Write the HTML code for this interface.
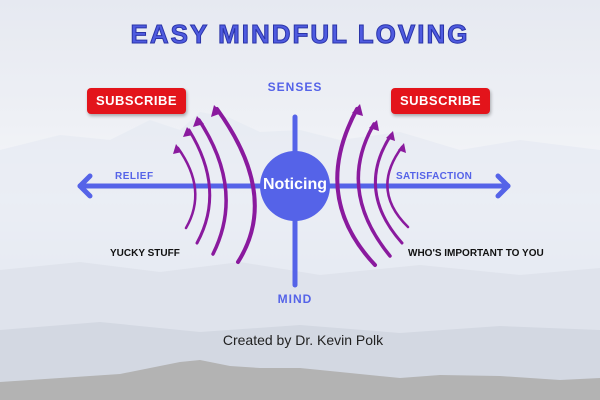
<!DOCTYPE html>
<html><head><meta charset="utf-8"><style>
body{margin:0}
.c{position:relative;width:600px;height:400px;overflow:hidden;background:linear-gradient(#e6e9f1 0%,#eef0f5 30%,#f6f7fa 50%,#e9ecf3 70%,#dfe3ec 100%);font-family:"Liberation Sans",sans-serif}
.t{position:absolute;font-weight:bold}
.sub{position:absolute;width:99px;height:26px;background:#e3141b;border-radius:4px;box-shadow:1px 2px 3px rgba(0,0,0,.3);color:#fff;font:bold 13px "Liberation Sans",sans-serif;letter-spacing:0.5px;text-align:center;line-height:26px}
</style></head><body><div class="c">
<svg width="600" height="400" style="position:absolute;left:0;top:0">
<path d="M0 150 L60 135 L110 140 L150 120 L180 130 L200 112 L230 118 L260 132 L300 130 L340 140 L400 132 L460 150 L520 140 L600 150 L600 400 L0 400Z" fill="#e6e9f2" opacity=".7"/>
<path d="M0 270 L80 262 L160 272 L240 262 L320 275 L420 265 L520 275 L600 268 L600 400 L0 400Z" fill="#dde1ea" opacity=".8"/>
<path d="M0 330 L100 322 L200 332 L300 325 L400 333 L500 326 L600 330 L600 400 L0 400Z" fill="#d3d8e2"/>
<path d="M0 382 L60 378 L120 374 L160 366 L180 362 L200 360 L230 366 L260 368 L300 368 L340 372 L400 378 L440 375 L500 376 L560 380 L600 378 L600 400 L0 400Z" fill="#b3b3b3"/>
<g stroke="#5563e8" stroke-width="5" fill="none" stroke-linecap="round" stroke-linejoin="round">
<line x1="295" y1="117" x2="295" y2="285"/>
<line x1="80" y1="186" x2="508" y2="186"/>
<polyline points="90,176 80,186 90,196"/>
<polyline points="498,176 508,186 498,196"/>
</g>
<ellipse cx="295" cy="186" rx="35" ry="35" fill="#5563e8"/>
<g stroke="#8a1a9e" stroke-width="4" fill="none" stroke-linecap="round">
<path d="M238 262 Q280 196 217 109"/>
<path d="M213 254 Q245 190 199 120" stroke-width="3.5"/>
<path d="M197 243 Q226 190 189 130" stroke-width="3"/>
<path d="M186 228 Q208 190 178 148" stroke-width="2.5"/>
<path d="M375 265 Q310 196 357 109"/>
<path d="M390 256 Q336 190 374 124" stroke-width="3.5"/>
<path d="M402 243 Q355 190 391 135" stroke-width="3"/>
<path d="M408 227 Q370 190 402 147" stroke-width="2.5"/>
</g>
<g fill="#8a1a9e">
<polygon points="214,105 211,117 222,113"/>
<polygon points="197,116 193,127 204,124"/>
<polygon points="187,127 183,137 193,135"/>
<polygon points="176,144 173,154 182,152"/>
<polygon points="360,104 352,113 363,116"/>
<polygon points="377,120 369,128 379,131"/>
<polygon points="393,131 386,138 395,141"/>
<polygon points="404,143 398,150 406,153"/>
</g>
</svg>
<div class="t" style="left:0;width:600px;top:19px;text-align:center;font-size:26px;color:#4f5be0;letter-spacing:2px;-webkit-text-stroke:1px #2a34a8">EASY MINDFUL LOVING</div>
<div class="sub" style="left:87px;top:88px">SUBSCRIBE</div>
<div class="sub" style="left:391px;top:88px">SUBSCRIBE</div>
<div class="t" style="left:245px;width:100px;top:80px;text-align:center;font-size:12px;color:#5563e8;letter-spacing:1px">SENSES</div>
<div class="t" style="left:245px;width:100px;top:292px;text-align:center;font-size:12px;color:#5563e8;letter-spacing:1px">MIND</div>
<div class="t" style="left:115px;top:171px;font-size:10px;color:#5563e8;letter-spacing:.5px">RELIEF</div>
<div class="t" style="left:396px;top:171px;font-size:10px;color:#5563e8;letter-spacing:.3px">SATISFACTION</div>
<div class="t" style="left:255px;width:80px;top:176px;text-align:center;font-size:16px;color:#fff">Noticing</div>
<div class="t" style="left:110px;top:248px;font-size:10px;color:#111">YUCKY STUFF</div>
<div class="t" style="left:408px;top:248px;font-size:10px;color:#111">WHO'S IMPORTANT TO YOU</div>
<div class="t" style="left:0;width:606px;top:332px;text-align:center;font-size:14px;font-weight:normal;color:#222">Created by Dr. Kevin Polk</div>
</div></body></html>
